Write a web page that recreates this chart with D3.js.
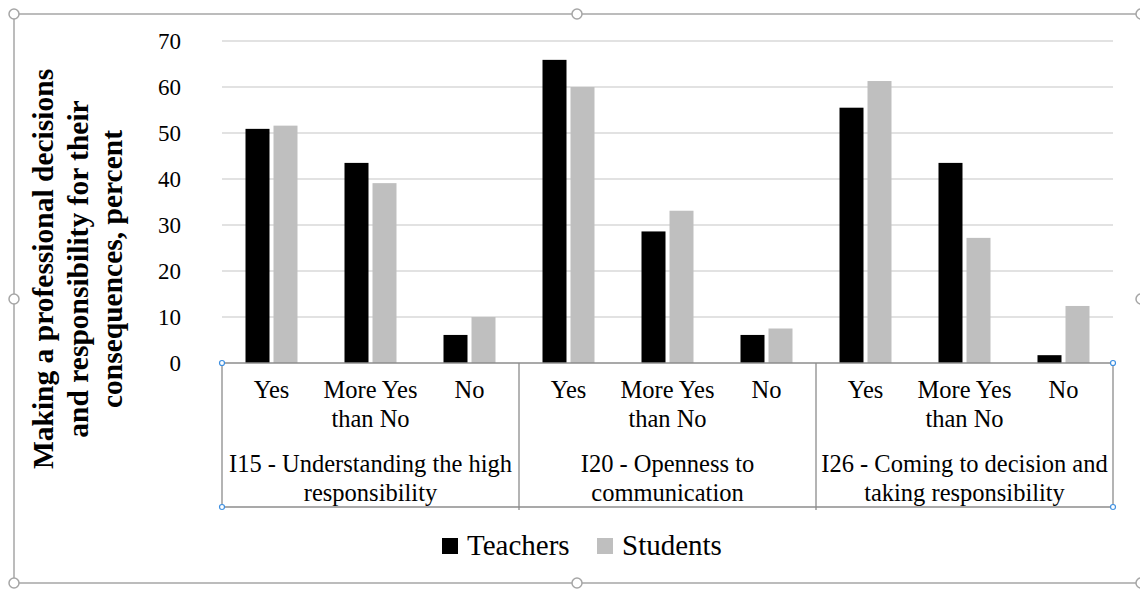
<!DOCTYPE html>
<html>
<head>
<meta charset="utf-8">
<script src="https://cdn.jsdelivr.net/npm/d3@7"></script>
</head>
<body style="margin:0">
<div id="chart-area"></div>
<script>
// Data
var groups = [
    ["I15 - Understanding the high", "responsibility"],
    ["I20 - Openness to", "communication"],
    ["I26 - Coming to decision and", "taking responsibility"]
];
var answers = [["Yes"], ["More Yes", "than No"], ["No"]];
var series = ["Teachers", "Students"];
var teachers = [50.9, 43.5, 6.1, 65.9, 28.6, 6.1, 55.5, 43.5, 1.7];
var students = [51.6, 39.1, 10.0, 60.0, 33.1, 7.5, 61.3, 27.2, 12.4];
var yTicks = [0, 10, 20, 30, 40, 50, 60, 70];
var yTitle = ["Making a professional decisions", "and responsibility for their", "consequences, percent"];

var colors = { Teachers: "#000000", Students: "#bfbfbf" };
var fontName = "Times New Roman";

var W = 1140, H = 589;
var plot = { left: 222, right: 1113, top: 41, bottom: 363 };
var boxBottom = 507;

var svg = d3.select("#chart-area")
    .append("svg")
        .attr("width", W)
        .attr("height", H)
        .style("display", "block");

// every label goes through this so the serif face is set both ways
function label(sel, size) {
    return sel.attr("font-family", fontName)
        .style("font-family", fontName)
        .attr("font-size", size)
        .attr("fill", "#000");
}

// flat list of bars
var cats = [];
groups.forEach(function(g, gi){
    answers.forEach(function(a, ai){
        cats.push({ group: gi, answer: ai, key: gi + "-" + ai });
    });
});

// Scales
var x = d3.scaleBand()
    .domain(cats.map(function(d){ return d.key; }))
    .range([plot.left, plot.right]);
var xGroup = d3.scaleBand()
    .domain(d3.range(groups.length))
    .range([plot.left, plot.right]);
var xInner = d3.scaleBand()
    .domain(series)
    .range([-26, 26])
    .paddingInner(0.143);
var y = d3.scaleLinear()
    .domain([0, 70])
    .range([plot.bottom, plot.top]);

// Gridlines
svg.append("g")
    .selectAll("line")
    .data(yTicks.filter(function(d){ return d > 0; }))
    .enter().append("line")
        .attr("x1", plot.left)
        .attr("x2", plot.right)
        .attr("y1", function(d){ return y(d); })
        .attr("y2", function(d){ return y(d); })
        .attr("stroke", "#d9d9d9")
        .attr("stroke-width", 1.5);

// Y tick labels
label(svg.append("g")
    .selectAll("text")
    .data(yTicks)
    .enter().append("text")
        .attr("x", 181)
        .attr("y", function(d){ return y(d); })
        .attr("dy", "0.35em")
        .attr("text-anchor", "end")
        .text(function(d){ return d; }), 23);

// Bars
var rows = cats.map(function(c, i){
    return { key: c.key, values: [
        { s: "Teachers", v: teachers[i] },
        { s: "Students", v: students[i] }
    ]};
});
var barG = svg.append("g").selectAll("g")
    .data(rows)
    .enter().append("g")
        .attr("transform", function(d){ return "translate(" + (x(d.key) + x.bandwidth() / 2) + ",0)"; });
barG.selectAll("rect")
    .data(function(d){ return d.values; })
    .enter().append("rect")
        .attr("x", function(d){ return xInner(d.s); })
        .attr("width", xInner.bandwidth())
        .attr("y", function(d){ return y(d.v); })
        .attr("height", function(d){ return y(0) - y(d.v); })
        .attr("fill", function(d){ return colors[d.s]; });

// Category box
var box = svg.append("g").attr("stroke", "#8c8c8c").attr("stroke-width", 1.3);
box.append("line")
    .attr("x1", plot.left).attr("x2", plot.right)
    .attr("y1", plot.bottom).attr("y2", plot.bottom);
box.append("line")
    .attr("x1", plot.left).attr("x2", plot.right)
    .attr("y1", boxBottom).attr("y2", boxBottom);
box.selectAll("line.div")
    .data(d3.range(groups.length + 1))
    .enter().append("line")
        .attr("class", "div")
        .attr("x1", function(d){ return plot.left + d * xGroup.step(); })
        .attr("x2", function(d){ return plot.left + d * xGroup.step(); })
        .attr("y1", plot.bottom)
        .attr("y2", function(d){ return (d === 0 || d === groups.length) ? boxBottom : boxBottom + 3; });

// Answer labels, one text per line
var answerLines = [];
cats.forEach(function(c){
    answers[c.answer].forEach(function(line, li){
        answerLines.push({ key: c.key, line: line, li: li });
    });
});
label(svg.append("g")
    .selectAll("text")
    .data(answerLines)
    .enter().append("text")
        .attr("x", function(d){ return x(d.key) + x.bandwidth() / 2; })
        .attr("y", function(d){ return 398 + d.li * 28.5; })
        .attr("text-anchor", "middle")
        .text(function(d){ return d.line; }), 24.5);

// Group labels, one text per line
var groupLines = [];
groups.forEach(function(lines, gi){
    lines.forEach(function(line, li){
        groupLines.push({ g: gi, line: line, li: li });
    });
});
label(svg.append("g")
    .selectAll("text")
    .data(groupLines)
    .enter().append("text")
        .attr("x", function(d){ return xGroup(d.g) + xGroup.bandwidth() / 2; })
        .attr("y", function(d){ return 472 + d.li * 28.5; })
        .attr("text-anchor", "middle")
        .text(function(d){ return d.line; }), 24.5);

// Y axis title
label(svg.append("g")
    .attr("transform", "translate(53,269) rotate(-90)")
    .selectAll("text")
    .data(yTitle)
    .enter().append("text")
        .attr("x", 0)
        .attr("y", function(d, i){ return i * 34.5; })
        .attr("text-anchor", "middle")
        .attr("font-weight", "bold")
        .text(function(d){ return d; }), 29.5);

// Legend
var legendX = [442, 597];
var legend = svg.append("g");
series.forEach(function(s, i){
    var row = legend.append("g")
        .attr("transform", "translate(" + legendX[i] + ",538)");
    row.append("rect")
        .attr("width", 16)
        .attr("height", 16)
        .attr("fill", colors[s]);
    label(row.append("text")
        .attr("x", 25)
        .attr("y", 17)
        .text(s), 29);
});

// Selection frame and handles
var frame = { l: 14, t: 14, r: 1141, b: 583 };
svg.append("rect")
    .attr("x", frame.l).attr("y", frame.t)
    .attr("width", frame.r - frame.l)
    .attr("height", frame.b - frame.t)
    .attr("fill", "none")
    .attr("stroke", "#a6a6a6")
    .attr("stroke-width", 1.5);
var handles = [
    [frame.l, frame.t], [577, frame.t], [frame.r, frame.t],
    [frame.l, 299], [frame.r, 299],
    [frame.l, frame.b], [577, frame.b], [frame.r, frame.b]
];
svg.append("g").selectAll("circle")
    .data(handles)
    .enter().append("circle")
        .attr("cx", function(d){ return d[0]; })
        .attr("cy", function(d){ return d[1]; })
        .attr("r", 5)
        .attr("fill", "#fff")
        .attr("stroke", "#a6a6a6")
        .attr("stroke-width", 1.5);

// small blue handles on the category box
var blue = [[plot.left, plot.bottom], [plot.right, plot.bottom], [plot.left, boxBottom], [plot.right, boxBottom]];
svg.append("g").selectAll("circle")
    .data(blue)
    .enter().append("circle")
        .attr("cx", function(d){ return d[0]; })
        .attr("cy", function(d){ return d[1]; })
        .attr("r", 2.5)
        .attr("fill", "#fff")
        .attr("stroke", "#3d8fe0")
        .attr("stroke-width", 1.2);
</script>
</body>
</html>
